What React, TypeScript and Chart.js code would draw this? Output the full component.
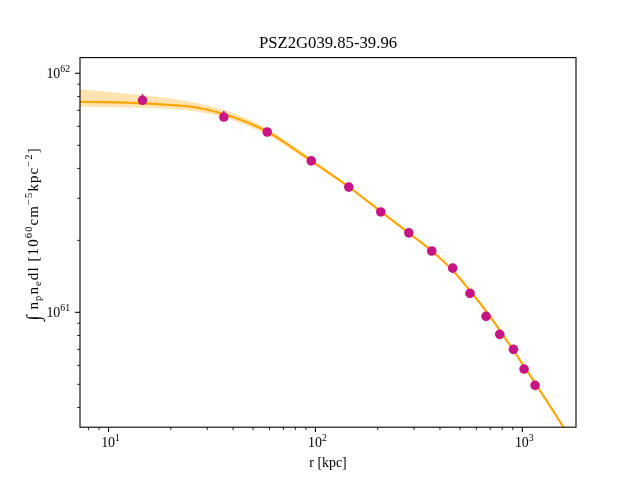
import React, { useEffect, useRef } from "react";
import { Chart, registerables } from "chart.js";

Chart.register(...registerables);

// ---------------- data ----------------
const TITLE = "PSZ2G039.85-39.96";
const X_LABEL = "r [kpc]";

const UNIT = 1e60; // values below are in units of 1e60 cm^-5 kpc^-2

// measured points
const radii = [14.6, 36.1, 58.5, 95.5, 145, 207, 283, 365, 461, 559, 668, 778, 906, 1020, 1153];
const emission = [77.1, 65.6, 56.8, 43.0, 33.4, 26.3, 21.5, 18.05, 15.3, 12.0, 9.62, 8.09, 7.0, 5.79, 4.95];
const emissionErrUp = [4.8, 4.1, 2.0, 1.0, 0.5, 0.35, 0.25, 0.2, 0.18, 0.15, 0.12, 0.1, 0.1, 0.08, 0.08];
const emissionErrDown = [3.0, 2.4, 1.6, 0.8, 0.5, 0.35, 0.25, 0.2, 0.18, 0.15, 0.12, 0.1, 0.1, 0.08, 0.08];

// model curve and its uncertainty band
const modelRadii = [7.28, 15.01, 20.04, 27.06, 36.14, 48.27, 60.28, 75.32, 95.13, 145.2, 207.2, 282.9, 365.5, 461.7, 557.7, 696.7, 870.0, 1087, 1358, 1813];
const modelBest = [76.06, 74.83, 73.69, 71.79, 67.55, 61.66, 56.26, 49.63, 43.16, 33.44, 26.41, 21.47, 18.05, 14.96, 12.34, 9.65, 7.30, 5.47, 4.07, 2.745];
const modelUpper = [85.74, 80.76, 78.47, 74.94, 70.17, 63.86, 57.93, 50.80, 44.10, 33.92, 26.79, 21.78, 18.31, 15.18, 12.52, 9.79, 7.40, 5.54, 4.13, 2.785];
const modelLower = [72.48, 71.72, 70.90, 69.10, 65.34, 59.59, 54.62, 48.25, 42.25, 32.96, 26.03, 21.16, 17.79, 14.74, 12.16, 9.51, 7.19, 5.39, 4.02, 2.705];

// axes
const X_MIN = 7.28;
const X_MAX = 1818;
const Y_MIN = 3.307; // x UNIT
const Y_MAX = 116.3; // x UNIT

const xMajorTicks = [10, 100, 1000];
const xMajorExps = ["1", "2", "3"];
const xMinorTicks = [8, 9, 20, 30, 40, 50, 60, 70, 80, 90, 200, 300, 400, 500, 600, 700, 800, 900];
const yMajorTicks = [10, 100]; // x UNIT
const yMajorExps = ["61", "62"];
const yMinorTicks = [4, 5, 6, 7, 8, 9, 20, 30, 40, 50, 60, 70, 80, 90]; // x UNIT

// ---------------- styles ----------------
const FONT = "'Liberation Serif', 'DejaVu Serif', serif";
const BASE = 13.9;
const ORANGE = "#FFA500";
const BAND = "rgba(255,165,0,0.3)";
const MAGENTA = "#C71585";

type Seg = { t: string; s?: "sup" | "sub"; scale?: number; dy?: number };

function segFont(seg: Seg, base: number) {
  const k = seg.scale ?? (seg.s ? 0.7 : 1);
  return `${base * k}px ${FONT}`;
}
function richWidth(ctx: CanvasRenderingContext2D, segs: Seg[], base: number) {
  let w = 0;
  for (const s of segs) {
    ctx.font = segFont(s, base);
    w += ctx.measureText(s.t).width;
  }
  return w;
}
function drawRich(ctx: CanvasRenderingContext2D, segs: Seg[], x: number, y: number, base: number, align: "left" | "center" | "right") {
  const w = richWidth(ctx, segs, base);
  let cx = align === "left" ? x : align === "center" ? x - w / 2 : x - w;
  ctx.textAlign = "left";
  ctx.textBaseline = "alphabetic";
  for (const s of segs) {
    ctx.font = segFont(s, base);
    let yy = y + (s.dy ?? 0);
    if (s.s === "sup") yy -= base * 0.42;
    if (s.s === "sub") yy += base * 0.2;
    ctx.fillText(s.t, cx, yy);
    cx += ctx.measureText(s.t).width;
  }
}

const decorPlugin = {
  id: "decor",
  beforeDatasetDraw(chart: any, args: any) {
    if (args.index !== 3) return;
    const ctx = chart.ctx as CanvasRenderingContext2D;
    const xs = chart.scales.x;
    const ys = chart.scales.y;
    ctx.save();
    ctx.strokeStyle = MAGENTA;
    ctx.lineWidth = 1.5;
    for (let i = 0; i < radii.length; i++) {
      const px = xs.getPixelForValue(radii[i]);
      const y1 = ys.getPixelForValue((emission[i] + emissionErrUp[i]) * UNIT);
      const y2 = ys.getPixelForValue((emission[i] - emissionErrDown[i]) * UNIT);
      ctx.beginPath();
      ctx.moveTo(px, y1);
      ctx.lineTo(px, y2);
      ctx.stroke();
    }
    ctx.restore();
  },
  afterDraw(chart: any) {
    const ctx = chart.ctx as CanvasRenderingContext2D;
    const a = chart.chartArea;
    const xs = chart.scales.x;
    const ys = chart.scales.y;
    ctx.save();
    ctx.fillStyle = "#000";
    ctx.strokeStyle = "#000";

    // spines
    ctx.lineWidth = 1.1;
    ctx.strokeRect(a.left, a.top, a.right - a.left, a.bottom - a.top);

    const tick = (x1: number, y1: number, x2: number, y2: number, w: number) => {
      ctx.lineWidth = w;
      ctx.beginPath();
      ctx.moveTo(x1, y1);
      ctx.lineTo(x2, y2);
      ctx.stroke();
    };
    xMajorTicks.forEach((v, i) => {
      const px = xs.getPixelForValue(v);
      tick(px, a.bottom, px, a.bottom + 4.9, 1.1);
      drawRich(ctx, [{ t: "10" }, { t: xMajorExps[i], s: "sup" }], px + 2, a.bottom + 20, BASE, "center");
    });
    xMinorTicks.forEach((v) => {
      const px = xs.getPixelForValue(v);
      tick(px, a.bottom, px, a.bottom + 2.8, 0.85);
    });
    yMajorTicks.forEach((v, i) => {
      const py = ys.getPixelForValue(v * UNIT);
      tick(a.left, py, a.left - 4.9, py, 1.1);
      drawRich(ctx, [{ t: "10" }, { t: yMajorExps[i], s: "sup" }], a.left - 10, py + 4.5, BASE, "right");
    });
    yMinorTicks.forEach((v) => {
      const py = ys.getPixelForValue(v * UNIT);
      tick(a.left, py, a.left - 2.8, py, 0.85);
    });

    // title
    drawRich(ctx, [{ t: TITLE }], (a.left + a.right) / 2, 48, 16.7, "center");

    // x label
    drawRich(ctx, [{ t: X_LABEL }], (a.left + a.right) / 2, 467, BASE, "center");

    // y label (rotated)
    const ySegs: Seg[] = [
      { t: "\u222B", scale: 1.3, dy: 2 },
      { t: " n" },
      { t: "p", s: "sub" },
      { t: "n" },
      { t: "e", s: "sub" },
      { t: "dl [10" },
      { t: "60", s: "sup" },
      { t: "cm" },
      { t: "\u22125", s: "sup" },
      { t: "kpc" },
      { t: "\u22122", s: "sup" },
      { t: "]" },
    ];
    ctx.translate(38, 234);
    ctx.rotate(-Math.PI / 2);
    (ctx as any).letterSpacing = "1.1px";
    drawRich(ctx, ySegs, 0, 0, 15, "center");
    (ctx as any).letterSpacing = "0px";
    ctx.restore();
  },
};

export default function App() {
  const ref = useRef<HTMLCanvasElement>(null);
  useEffect(() => {
    const pts = (xs: number[], ys: number[]) => xs.map((x, i) => ({ x, y: ys[i] * UNIT }));
    const chart = new Chart(ref.current as HTMLCanvasElement, {
      type: "line",
      data: {
        datasets: [
          {
            data: pts(modelRadii, modelUpper),
            borderWidth: 0,
            pointRadius: 0,
            backgroundColor: BAND,
            borderColor: "rgba(0,0,0,0)",
            fill: "+1",
            cubicInterpolationMode: "monotone",
            clip: 0,
            order: 4,
          },
          {
            data: pts(modelRadii, modelLower),
            borderWidth: 0,
            pointRadius: 0,
            borderColor: "rgba(0,0,0,0)",
            fill: false,
            cubicInterpolationMode: "monotone",
            clip: 0,
            order: 3,
          },
          {
            data: pts(modelRadii, modelBest),
            borderWidth: 2.1,
            borderColor: ORANGE,
            pointRadius: 0,
            fill: false,
            cubicInterpolationMode: "monotone",
            clip: 0,
            order: 2,
          },
          {
            data: pts(radii, emission),
            showLine: false,
            pointRadius: 4.8,
            pointBackgroundColor: MAGENTA,
            pointBorderWidth: 0,
            pointBorderColor: MAGENTA,
            fill: false,
            clip: 6,
            order: 1,
          },
        ] as any,
      },
      options: {
        animation: false,
        responsive: false,
        events: [],
        layout: { padding: { left: 80, top: 57.6, right: 64, bottom: 52.8 } },
        plugins: {
          legend: { display: false },
          tooltip: { enabled: false },
          title: { display: false },
        },
        scales: {
          x: { type: "logarithmic", min: X_MIN, max: X_MAX, display: false },
          y: { type: "logarithmic", min: Y_MIN * UNIT, max: Y_MAX * UNIT, display: false },
        },
      } as any,
      plugins: [decorPlugin],
    });
    return () => chart.destroy();
  }, []);
  return (
    <div style={{ position: "absolute", left: 0, top: 0, width: 640, height: 480, background: "#fff" }}>
      <canvas ref={ref} width={640} height={480} style={{ width: 640, height: 480, display: "block" }} />
    </div>
  );
}
